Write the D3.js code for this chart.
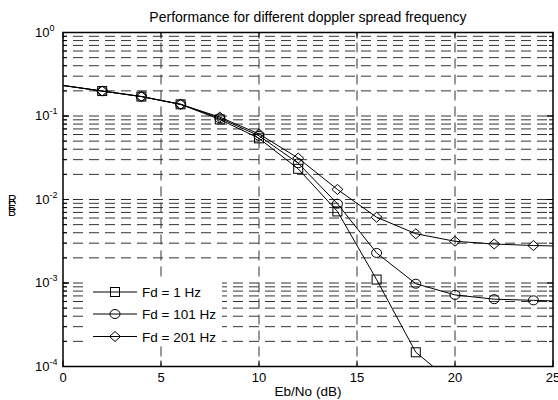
<!DOCTYPE html>
<html>
<head>
<meta charset="utf-8">
<script src="https://cdn.jsdelivr.net/npm/d3@7"></script>
<style>
  body { margin: 0; background: #fff; }
  text { font-family: "Liberation Sans", Arial, sans-serif; fill: #000; }
</style>
</head>
<body>
<div id="chart"></div>
<script>
// Eb/No points (dB) and BER per doppler spread
var ebno = [0, 2, 4, 6, 8, 10, 12, 14, 16, 18, 20, 22, 24, 25];
var berFd1   = [0.232, 0.199, 0.171, 0.138, 0.091, 0.054, 0.0233, 0.0072, 0.0011, 0.000148, 0.000061, 0.000025, 0.00001, 0.0000065];
var berFd101 = [0.232, 0.199, 0.171, 0.138, 0.094, 0.058, 0.0272, 0.0089, 0.00229, 0.00098, 0.00072, 0.00064, 0.00062, 0.00061];
var berFd201 = [0.232, 0.199, 0.171, 0.138, 0.097, 0.061, 0.0313, 0.0132, 0.00613, 0.00389, 0.00316, 0.00293, 0.00281, 0.00278];
var seriesNames = ["Fd = 1 Hz", "Fd = 101 Hz", "Fd = 201 Hz"];
var markerTypes = ["square", "circle", "diamond"];
var xTicks = [0, 5, 10, 15, 20, 25];
var yTicks = [1e-4, 1e-3, 1e-2, 1e-1, 1];
var yExponents = ["-4", "-3", "-2", "-1", "0"];

var width = 558, height = 400;
// note: "top" is taken by window.top, so use other names
var plotLeft = 63, plotRight = 553, plotTop = 32.5, plotBottom = 366.5;

var svg = d3.select("#chart").append("svg")
    .attr("width", width)
    .attr("height", height);

var x = d3.scaleLinear().domain([0, 25]).range([plotLeft, plotRight]);
var y = d3.scaleLog().domain([1e-4, 1]).range([plotBottom, plotTop]);

svg.append("defs").append("clipPath").attr("id", "plotclip")
  .append("rect")
    .attr("x", plotLeft).attr("y", plotTop)
    .attr("width", plotRight - plotLeft).attr("height", plotBottom - plotTop);

// grid lines (dashed), horizontal at every log tick
var gridVals = [];
for (var k = -4; k < 0; k++) {
    for (var m = 1; m <= 9; m++) {
        var v = m * Math.pow(10, k);
        if (v > 1e-4) gridVals.push(v);
    }
}
var grid = svg.append("g");
grid.selectAll("line.h")
    .data(gridVals)
    .enter().append("line")
    .attr("x1", plotLeft).attr("x2", plotRight)
    .attr("y1", function(d) { return y(d); })
    .attr("y2", function(d) { return y(d); })
    .style("stroke", "#333")
    .style("stroke-width", 1)
    .style("stroke-dasharray", "10,6")
    .style("stroke-dashoffset", 6);

grid.selectAll("line.v")
    .data(xTicks.slice(1, -1))
    .enter().append("line")
    .attr("x1", function(d) { return x(d); })
    .attr("x2", function(d) { return x(d); })
    .attr("y1", plotBottom).attr("y2", plotTop)
    .style("stroke", "#333")
    .style("stroke-width", 1)
    .style("stroke-dasharray", "10,6")
    .style("stroke-dashoffset", 6);

// ticks on all four sides, pointing inward
var ticks = svg.append("g").style("stroke", "#000").style("stroke-width", 1);
xTicks.forEach(function(t) {
    ticks.append("line").attr("x1", x(t)).attr("x2", x(t)).attr("y1", plotBottom).attr("y2", plotBottom - 6);
    ticks.append("line").attr("x1", x(t)).attr("x2", x(t)).attr("y1", plotTop).attr("y2", plotTop + 6);
});
gridVals.concat(yTicks).forEach(function(v) {
    var len = (Math.abs(Math.log10(v) - Math.round(Math.log10(v))) < 1e-9) ? 6 : 4;
    ticks.append("line").attr("x1", plotLeft).attr("x2", plotLeft + len).attr("y1", y(v)).attr("y2", y(v));
    ticks.append("line").attr("x1", plotRight).attr("x2", plotRight - len).attr("y1", y(v)).attr("y2", y(v));
});

// data lines and markers
var allSeries = [berFd1, berFd101, berFd201];
var line = d3.line()
    .x(function(d, i) { return x(ebno[i]); })
    .y(function(d) { return y(d); });

var plot = svg.append("g").attr("clip-path", "url(#plotclip)");

function drawMarker(g, type, cx, cy) {
    if (type === "square") {
        g.append("rect").attr("x", cx - 4.5).attr("y", cy - 4.5).attr("width", 9).attr("height", 9);
    } else if (type === "circle") {
        g.append("ellipse").attr("cx", cx).attr("cy", cy).attr("rx", 5).attr("ry", 4.5);
    } else {
        g.append("path").attr("d", "M" + cx + "," + (cy - 5) + "L" + (cx + 5.5) + "," + cy +
            "L" + cx + "," + (cy + 5) + "L" + (cx - 5.5) + "," + cy + "Z");
    }
}

allSeries.forEach(function(s, si) {
    plot.append("path")
        .datum(s)
        .attr("d", line)
        .style("fill", "none")
        .style("stroke", "#000")
        .style("stroke-width", 1);
    var mg = plot.append("g").style("fill", "none").style("stroke", "#000").style("stroke-width", 1);
    s.forEach(function(v, i) {
        if (ebno[i] > 0 && ebno[i] < 25) drawMarker(mg, markerTypes[si], x(ebno[i]), y(v));
    });
});

// axes box
svg.append("rect")
    .attr("x", plotLeft).attr("y", plotTop)
    .attr("width", plotRight - plotLeft).attr("height", plotBottom - plotTop)
    .style("fill", "none")
    .style("stroke", "#000")
    .style("stroke-width", 1.5);

// tick labels
svg.append("g").selectAll("text")
    .data(xTicks)
    .enter().append("text")
    .attr("x", function(d) { return x(d); })
    .attr("y", plotBottom + 15)
    .attr("text-anchor", "middle")
    .style("font-size", "13px")
    .text(function(d) { return d; });

var yl = svg.append("g");
yTicks.forEach(function(v, i) {
    var t = yl.append("text")
        .attr("x", 35)
        .attr("y", y(v) + 4)
        .style("font-size", "13px");
    t.append("tspan").text("10");
    t.append("tspan").attr("dy", -6).style("font-size", "9px").text(yExponents[i]);
});

// title and axis labels
svg.append("text")
    .attr("x", (plotLeft + plotRight) / 2)
    .attr("y", 22)
    .attr("text-anchor", "middle")
    .style("font-size", "14px")
    .text("Performance for different doppler spread frequency");

svg.append("text")
    .attr("x", (plotLeft + plotRight) / 2)
    .attr("y", 396)
    .attr("text-anchor", "middle")
    .style("font-size", "13.5px")
    .text("Eb/No (dB)");

// y label: letters stacked as in the original
["R", "E", "B"].forEach(function(c, i) {
    svg.append("text")
        .attr("x", 8)
        .attr("y", 204 + i * 6)
        .style("font-size", "12px")
        .text(c);
});

// legend
var legend = svg.append("g");
legend.append("rect")
    .attr("x", 83).attr("y", 280)
    .attr("width", 139).attr("height", 63)
    .style("fill", "#fff");
var rowsY = [292, 314, 336.5];
seriesNames.forEach(function(name, i) {
    legend.append("line")
        .attr("x1", 93).attr("x2", 137)
        .attr("y1", rowsY[i]).attr("y2", rowsY[i])
        .style("stroke", "#000").style("stroke-width", 1);
    var mg = legend.append("g").style("fill", "none").style("stroke", "#000").style("stroke-width", 1);
    drawMarker(mg, markerTypes[i], 115, rowsY[i]);
    legend.append("text")
        .attr("x", 142)
        .attr("y", rowsY[i] + 5)
        .style("font-size", "13.5px")
        .text(name);
});
</script>
</body>
</html>
